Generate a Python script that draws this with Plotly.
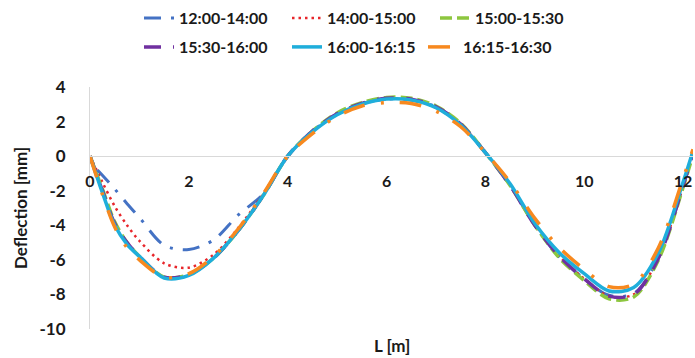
import plotly.graph_objects as go

# ---------------- data ----------------
x_common = [0, 0.25, 0.5, 0.75, 1.0, 1.5, 2.0, 2.5, 3.0, 3.5, 4.0, 4.5, 5.0, 5.5, 6.0,
            6.5, 7.0, 7.5, 8.0, 8.5, 9.0, 9.5, 10.0, 10.5, 11.0, 11.5, 12.0, 12.2]
x_blue = [0.15, 0.25, 0.5, 0.75, 1.0, 1.5, 2.0, 2.5, 3.0, 3.5, 4.0, 4.5, 5.0, 5.5, 6.0,
          6.5, 7.0, 7.5, 8.0, 8.5, 9.0, 9.5, 10.0, 10.5, 11.0, 11.5, 12.0, 12.2]

y_1200_1400 = [-0.8, -1.1, -1.9, -2.75, -3.55, -5.15, -5.4, -4.85, -3.4, -2.2, 0.0, 1.45, 2.45, 3.05, 3.3,
               3.25, 2.85, 1.85, 0.2, -1.7, -4.0, -5.85, -7.1, -8.05, -7.95, -5.9, -1.7, 0.3]
y_1400_1500 = [0, -1.5, -2.9, -4.0, -4.9, -6.2, -6.45, -5.7, -4.15, -2.2, 0.0, 1.4, 2.4, 3.0, 3.3,
               3.25, 2.8, 1.85, 0.2, -1.65, -3.95, -5.8, -7.1, -8.1, -8.0, -5.9, -1.7, 0.2]
y_1500_1530 = [0, -1.9, -3.8, -5.0, -5.8, -7.0, -6.85, -5.9, -4.3, -2.3, 0.0, 1.45, 2.5, 3.1, 3.4,
               3.35, 2.9, 1.9, 0.2, -1.7, -4.0, -5.9, -7.2, -8.25, -8.15, -6.0, -1.8, 0.1]
y_1530_1600 = [0, -2.0, -3.9, -5.0, -5.8, -7.0, -6.85, -5.9, -4.3, -2.3, 0.0, 1.45, 2.45, 3.05, 3.35,
               3.3, 2.85, 1.85, 0.2, -1.7, -4.0, -5.8, -7.1, -8.1, -8.0, -5.9, -1.7, 0.2]
y_1600_1615 = [0, -2.1, -4.0, -5.1, -5.8, -7.05, -6.9, -5.9, -4.3, -2.3, 0.0, 1.4, 2.4, 3.0, 3.3,
               3.25, 2.8, 1.8, 0.2, -1.6, -3.9, -5.6, -6.8, -7.8, -7.6, -5.6, -1.5, 0.3]
y_1615_1630 = [0, -2.2, -4.1, -5.3, -6.0, -7.0, -6.8, -5.8, -4.2, -2.2, 0.0, 1.3, 2.3, 2.9, 3.1,
               3.05, 2.6, 1.7, 0.2, -1.5, -3.6, -5.3, -6.55, -7.55, -7.4, -5.3, -1.3, 0.4]

series_names = ["12:00-14:00", "14:00-15:00", "15:00-15:30",
                "15:30-16:00", "16:00-16:15", "16:15-16:30"]
x_tick_vals = [0, 2, 4, 6, 8, 10, 12]
y_tick_vals = [-10, -8, -6, -4, -2, 0, 2, 4]

# ---------------- styles ----------------
styles = [
    dict(color="#4472C4", width=3, dash="17px,10px,3px,10px"),
    dict(color="#E8262B", width=2.5, dash="2.5px,4px"),
    dict(color="#8DC63F", width=3.5, dash="12px,5px"),
    dict(color="#7030A0", width=3.5, dash="17px,12px"),
    dict(color="#1FAEDB", width=3.5, dash="solid"),
    dict(color="#F7891F", width=3.5, dash="22px,16px,3px,16px"),
]
xs = [x_blue, x_common, x_common, x_common, x_common, x_common]
ys = [y_1200_1400, y_1400_1500, y_1500_1530, y_1530_1600, y_1600_1615, y_1615_1630]

# legend placement (text start x, row centre y) in container pixels
legend_text_x = [177, 325, 473, 177, 325, 461]
legend_row_y = [18, 18, 18, 47, 47, 47]

FONT = "Lato"
W, H = 695, 358
PT, PB = 87, 329

fig = go.Figure()
legend_ids = ["legend"] + [f"legend{k}" for k in range(2, 7)]
for i, (name, xv, yv, st) in enumerate(zip(series_names, xs, ys, styles)):
    fig.add_trace(go.Scatter(
        x=xv, y=yv, name=name, mode="lines",
        line=dict(color=st["color"], width=st["width"], dash=st["dash"],
                  shape="spline", smoothing=0.9),
        legend=legend_ids[i],
    ))

legend_layout = {}
for i, lid in enumerate(legend_ids):
    legend_layout[lid] = dict(
        orientation="h", xref="container", yref="container",
        xanchor="left", yanchor="middle",
        x=(legend_text_x[i] - 38) / W, y=1 - legend_row_y[i] / H,
        font=dict(family=FONT, size=16, color="#1a1a1a", weight="bold"),
        bgcolor="rgba(0,0,0,0)", itemwidth=30)

fig.update_layout(
    width=W, height=H,
    margin=dict(l=90, r=2, t=PT, b=H - PB),
    paper_bgcolor="white", plot_bgcolor="white",
    font=dict(family=FONT, size=16, color="#1a1a1a", weight="bold"),
    showlegend=True,
    **legend_layout,
    xaxis=dict(range=[0, 12.2], tickvals=x_tick_vals, ticktext=[str(v) for v in x_tick_vals],
               showgrid=False, zeroline=False, showline=True, linecolor="#D9D9D9", linewidth=1,
               anchor="free", position=10 / 14, ticks="", ticklabelstandoff=11,
               tickfont=dict(family=FONT, size=16, color="#1a1a1a", weight="bold")),
    yaxis=dict(range=[-10, 4], tickvals=y_tick_vals, ticktext=[str(v) for v in y_tick_vals],
               showgrid=False, zeroline=False, showline=True, linecolor="#D9D9D9", linewidth=1,
               ticks="", ticklabelstandoff=20,
               tickfont=dict(family=FONT, size=17, color="#1a1a1a", weight="bold"),
               title=dict(text="Deflection [mm]", standoff=7,
                          font=dict(family=FONT, size=17, color="#1a1a1a", weight="bold"))),
    annotations=[dict(text="L [m]", xref="paper", yref="paper", x=0.5,
                      y=(PB - 345) / (PB - PT),
                      xanchor="center", yanchor="middle", showarrow=False,
                      font=dict(family=FONT, size=17, color="#1a1a1a", weight="bold"))],
)

fig.write_html("out.html")
